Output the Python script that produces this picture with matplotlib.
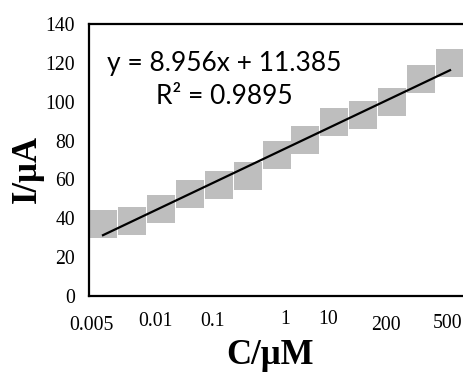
import numpy as np
import matplotlib
matplotlib.use("Agg")
import matplotlib.pyplot as plt

# ---- data ----
current_uA = [37.0, 38.6, 44.8, 52.7, 57.0, 61.9, 72.8, 80.1, 89.4, 93.0, 100.0, 111.5, 120.1]
conc_labels = ["0.005", "0.01", "0.1", "1", "10", "200", "500"]
conc_label_pos = [-0.41, 1.80, 3.80, 6.31, 7.80, 9.80, 11.91]
conc_label_drop = [325, 321, 321, 320, 320, 325, 324]   # label centre rows (px)
y_ticks = [0, 20, 40, 60, 80, 100, 120, 140]
equation = "y = 8.956x + 11.385"
r_squared = "R² = 0.9895"

W, H = 463, 372
fig = plt.figure(figsize=(W / 100, H / 100), dpi=100)
ax_left, ax_bottom, ax_top, ax_right = 89, 296, 24, 470
ax = fig.add_axes([ax_left / W, (H - ax_bottom) / H,
                   (ax_right - ax_left) / W, (ax_bottom - ax_top) / H])

x = np.arange(len(current_uA))
ax.plot(x, current_uA, linestyle="none", marker="s", markersize=20.2,
        markerfacecolor="#bebebe", markeredgewidth=0, zorder=2, clip_on=True)

slope, intercept = np.polyfit(x, current_uA, 1)
ax.plot([x[0], x[-1]], [intercept + slope * x[0], intercept + slope * x[-1]],
        color="black", linewidth=1.6, zorder=3)

spacing = 28.92
ax.set_xlim((ax_left - 103) / spacing, (ax_right - 103) / spacing)
ax.set_ylim(0, 140)
ax.set_yticks(y_ticks)
ax.set_yticklabels([str(v) for v in y_ticks], family="Liberation Serif", fontsize=14.2)
ax.tick_params(axis="y", length=0, pad=10)
ax.set_xticks([])
for s in ax.spines.values():
    s.set_linewidth(1.6)
    s.set_color("black")

tr = ax.get_xaxis_transform()
for lab, pos, row in zip(conc_labels, conc_label_pos, conc_label_drop):
    ax.text(pos, (ax_bottom - row) / (ax_bottom - ax_top), lab, transform=tr,
            ha="center", va="center", family="Liberation Serif", fontsize=14.2,
            clip_on=False)

fig.text(27 / W, 1 - 169 / H, "I/μA", rotation=90, ha="center", va="center",
         family="Liberation Serif", fontweight="bold", fontsize=25)
fig.text(270 / W, 1 - 356 / H, "C/μM", ha="center", va="center",
         family="Liberation Serif", fontweight="bold", fontsize=25)

fig.text(224 / W, 1 - 63 / H, equation, ha="center", va="center",
         family="Lato", fontsize=19)
fig.text(224 / W, 1 - 97 / H, r_squared, ha="center", va="center",
         family="Lato", fontsize=19)

fig.savefig("out.png", dpi=100)
